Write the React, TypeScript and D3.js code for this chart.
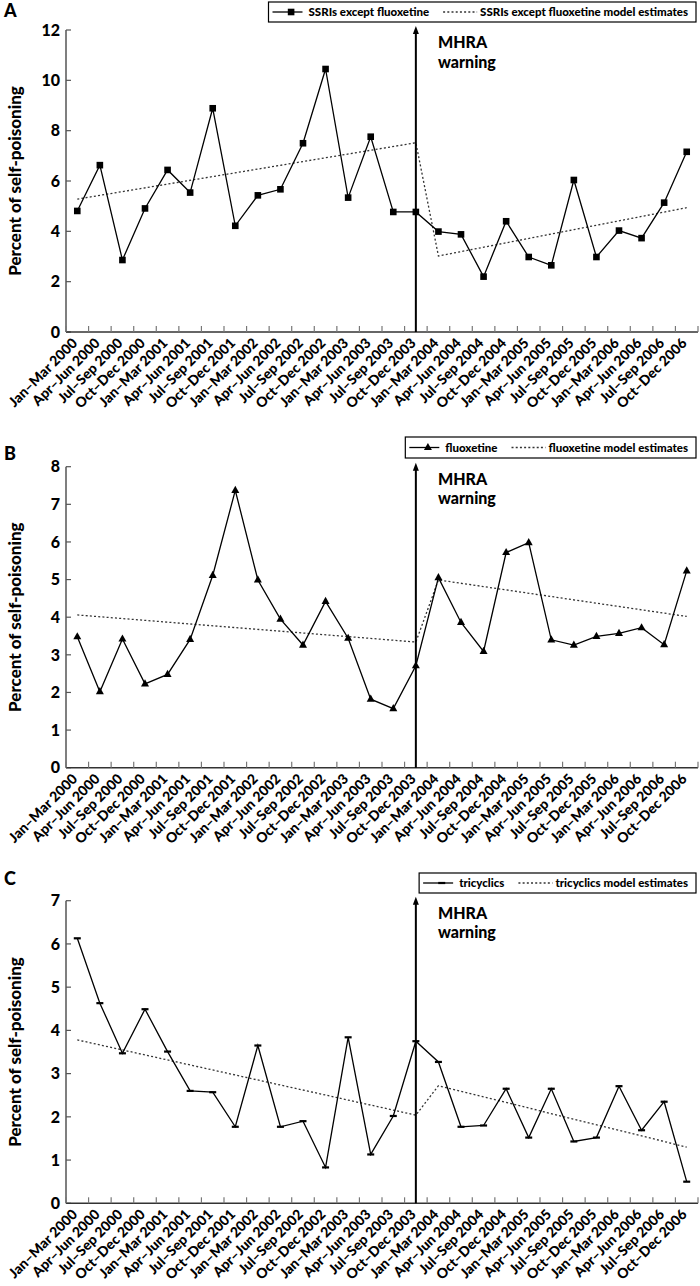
import React, { useEffect, useRef } from 'react';
import * as d3 from 'd3';

const quarters = [
  'Jan–Mar 2000', 'Apr–Jun 2000', 'Jul–Sep 2000', 'Oct–Dec 2000',
  'Jan–Mar 2001', 'Apr–Jun 2001', 'Jul–Sep 2001', 'Oct–Dec 2001',
  'Jan–Mar 2002', 'Apr–Jun 2002', 'Jul–Sep 2002', 'Oct–Dec 2002',
  'Jan–Mar 2003', 'Apr–Jun 2003', 'Jul–Sep 2003', 'Oct–Dec 2003',
  'Jan–Mar 2004', 'Apr–Jun 2004', 'Jul–Sep 2004', 'Oct–Dec 2004',
  'Jan–Mar 2005', 'Apr–Jun 2005', 'Jul–Sep 2005', 'Oct–Dec 2005',
  'Jan–Mar 2006', 'Apr–Jun 2006', 'Jul–Sep 2006', 'Oct–Dec 2006',
];
const warningQuarter = 'Oct–Dec 2003';
const warningLines = ['MHRA', 'warning'];
const modelQuarters = ['Jan–Mar 2000', 'Oct–Dec 2003', 'Jan–Mar 2004', 'Oct–Dec 2006'];

const ssriValues = [4.81, 6.63, 2.86, 4.91, 6.44, 5.54, 8.89, 4.22, 5.43, 5.67, 7.5, 10.45, 5.34, 7.76,
  4.77, 4.77, 3.99, 3.88, 2.2, 4.4, 2.98, 2.65, 6.04, 2.98, 4.03, 3.73, 5.14, 7.16];
const ssriModel = [5.28, 7.52, 3.02, 4.94];

const fluoxValues = [3.48, 2.02, 3.42, 2.23, 2.48, 3.41, 5.11, 7.37, 4.99, 3.95, 3.26, 4.42, 3.44, 1.82,
  1.57, 2.71, 5.05, 3.86, 3.09, 5.72, 5.98, 3.4, 3.26, 3.49, 3.57, 3.72, 3.27, 5.23];
const fluoxModel = [4.06, 3.34, 4.99, 4.02];

const tricValues = [6.13, 4.63, 3.47, 4.49, 3.51, 2.6, 2.57, 1.77, 3.65, 1.77, 1.9, 0.83, 3.84, 1.13,
  2.02, 3.75, 3.27, 1.77, 1.8, 2.65, 1.52, 2.65, 1.43, 1.52, 2.71, 1.69, 2.35, 0.5];
const tricModel = [3.78, 2.04, 2.72, 1.3];

const panelLetters = ['A', 'B', 'C'];
const seriesNames = ['SSRIs except fluoxetine', 'fluoxetine', 'tricyclics'];
const modelNames = ['SSRIs except fluoxetine model estimates', 'fluoxetine model estimates', 'tricyclics model estimates'];
const yMaxes = [12, 8, 7];
const yTickSteps = [2, 1, 1];
const yTitle = 'Percent of self-poisoning';

const FONT = 'Lato, "Open Sans", "DejaVu Sans", sans-serif';
const W = 900;

const layout = [
  { top: 30, bottom: 332, letterY: 17, legendTop: 2, legendH: 20, marker: 'square' },
  { top: 466.7, bottom: 767.7, letterY: 460, legendTop: 437, legendH: 21, marker: 'triangle' },
  { top: 900.7, bottom: 1203.3, letterY: 885, legendTop: 873, legendH: 20, marker: 'bar' },
];
const seriesData = [ssriValues, fluoxValues, tricValues];
const modelData = [ssriModel, fluoxModel, tricModel];

function drawMarker(g: any, kind: string, x: number, y: number) {
  if (kind === 'square') {
    g.append('rect').attr('x', x - 3.3).attr('y', y - 3.3).attr('width', 6.6).attr('height', 6.6).attr('fill', '#000');
  } else if (kind === 'triangle') {
    g.append('path').attr('d', `M${x},${y - 4.6}L${x + 4},${y + 2.6}L${x - 4},${y + 2.6}Z`).attr('fill', '#000');
  } else {
    g.append('rect').attr('x', x - 3.5).attr('y', y - 1.1).attr('width', 7).attr('height', 2.2).attr('fill', '#000');
  }
}

export default function App() {
  const ref = useRef<SVGSVGElement>(null);
  useEffect(() => {
    document.body.style.margin = '0';
    const svg = d3.select(ref.current);
    svg.selectAll('*').remove();
    const x = d3.scaleBand().domain(quarters).range([66, 698]);
    const cx = (q: string) => (x(q) as number) + x.bandwidth() / 2;

    layout.forEach((p, pi) => {
      const y = d3.scaleLinear().domain([0, yMaxes[pi]]).range([p.bottom, p.top]);
      const g = svg.append('g').attr('font-family', FONT).attr('font-weight', W);

      g.append('text').attr('x', 4).attr('y', p.letterY).attr('font-size', 18).text(panelLetters[pi]);

      // y axis
      g.append('line').attr('x1', 66).attr('x2', 66).attr('y1', p.bottom).attr('y2', p.top)
        .attr('stroke', '#555').attr('stroke-width', 1.5);
      const yt = d3.range(0, yMaxes[pi] + 0.001, yTickSteps[pi]);
      yt.forEach((t) => {
        g.append('line').attr('x1', 66).attr('x2', 71).attr('y1', y(t)).attr('y2', y(t)).attr('stroke', '#555').attr('stroke-width', 1.2);
        g.append('text').attr('x', 60).attr('y', y(t)).attr('dy', '0.36em').attr('text-anchor', 'end')
          .attr('font-size', 16).text(String(t));
      });

      // y title
      g.append('text').attr('transform', `translate(21,${(p.top + p.bottom) / 2}) rotate(-90)`)
        .attr('text-anchor', 'middle').attr('font-size', 17).text(yTitle);

      // x axis
      g.append('line').attr('x1', 66).attr('x2', 698).attr('y1', p.bottom).attr('y2', p.bottom)
        .attr('stroke', '#333').attr('stroke-width', 1.5);
      const bounds = quarters.map((q) => x(q) as number).concat([x.range()[1]]);
      bounds.forEach((b) => {
        g.append('line').attr('x1', b).attr('x2', b).attr('y1', p.bottom).attr('y2', p.bottom - 6)
          .attr('stroke', '#777').attr('stroke-width', 1.2);
      });
      quarters.forEach((q) => {
        g.append('text').attr('transform', `translate(${cx(q) + 1},${p.bottom + 12}) rotate(-45)`)
          .attr('text-anchor', 'end').attr('font-size', 14).text(q);
      });

      // model estimates
      const mPts = modelQuarters.map((q, i) => [cx(q), y(modelData[pi][i])] as [number, number]);
      g.append('path').attr('d', d3.line()(mPts)).attr('fill', 'none').attr('stroke', '#333')
        .attr('stroke-width', 1.3).attr('stroke-dasharray', '2,2.2');

      // data line
      const pts = quarters.map((q, i) => [cx(q), y(seriesData[pi][i])] as [number, number]);
      g.append('path').attr('d', d3.line()(pts)).attr('fill', 'none').attr('stroke', '#000').attr('stroke-width', 1.3);
      pts.forEach(([px, py]) => drawMarker(g, p.marker, px, py));

      // MHRA arrow
      const ax = cx(warningQuarter);
      const tip = p.top - 4;
      g.append('line').attr('x1', ax).attr('x2', ax).attr('y1', p.bottom).attr('y2', tip + 5)
        .attr('stroke', '#000').attr('stroke-width', 2);
      g.append('path').attr('d', `M${ax},${tip}L${ax - 3},${tip + 8}L${ax + 3},${tip + 8}Z`).attr('fill', '#000');
      const wt = g.append('text').attr('x', 438).attr('y', tip + 22).attr('font-size', 16);
      wt.append('tspan').attr('x', 438).attr('dy', 0).text(warningLines[0]);
      wt.append('tspan').attr('x', 438).attr('dy', 19.5).text(warningLines[1]);

      // legend
      const lg = g.append('g');
      const box = lg.append('rect').attr('fill', '#fff').attr('stroke', '#000').attr('stroke-width', 1.2);
      const midY = p.legendTop + p.legendH / 2;
      const t1 = lg.append('text').attr('font-size', 11.5).attr('y', midY).attr('dy', '0.35em').text(seriesNames[pi]);
      const t2 = lg.append('text').attr('font-size', 11.5).attr('y', midY).attr('dy', '0.35em').text(modelNames[pi]);
      const w1 = (t1.node() as SVGTextElement).getComputedTextLength();
      const w2 = (t2.node() as SVGTextElement).getComputedTextLength();
      const padL = 4, lineW = 30, gap1 = 6, gap2 = 14, dotW = 34, gap3 = 3, padR = 8;
      const total = padL + lineW + gap1 + w1 + gap2 + dotW + gap3 + w2 + padR;
      const right = 696;
      const left = right - total;
      box.attr('x', left).attr('y', p.legendTop).attr('width', total).attr('height', p.legendH);
      let cxl = left + padL;
      lg.append('line').attr('x1', cxl).attr('x2', cxl + lineW).attr('y1', midY).attr('y2', midY).attr('stroke', '#000').attr('stroke-width', 1.3);
      drawMarker(lg, p.marker, cxl + lineW * 0.62, midY);
      cxl += lineW + gap1;
      t1.attr('x', cxl);
      cxl += w1 + gap2;
      lg.append('line').attr('x1', cxl).attr('x2', cxl + dotW).attr('y1', midY).attr('y2', midY).attr('stroke', '#333')
        .attr('stroke-width', 1.3).attr('stroke-dasharray', '2,2.2');
      cxl += dotW + gap3;
      t2.attr('x', cxl);
    });
  }, []);
  return <svg ref={ref} width={700} height={1286} style={{ display: 'block', background: '#fff' }} />;
}
